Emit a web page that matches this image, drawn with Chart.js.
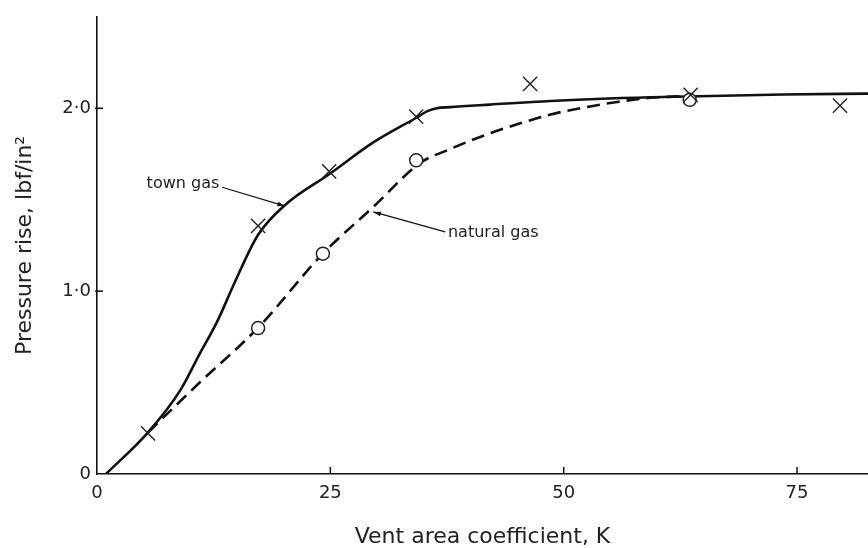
<!DOCTYPE html>
<html>
<head>
<meta charset="utf-8">
<script src="https://cdn.jsdelivr.net/npm/chart.js@4.4.0/dist/chart.umd.min.js"></script>
<style>
  html, body { margin: 0; padding: 0; background: #fff; }
  #chart { display: block; }
</style>
</head>
<body>
<canvas id="chart" width="868" height="548"></canvas>
<script>
// Pressure rise vs vent area coefficient K
const xTicks = [0, 25, 50, 75];
const xTickLabels = ['0', '25', '50', '75'];
const yTicks = [0, 1, 2];
const yTickLabels = ['0', '1·0', '2·0'];

// drawn curves
const townCurveK = [0.96, 5.47, 8.9, 11.0, 12.9, 14.8, 17.26, 20.15, 24.87, 29.6, 34.2, 35.4, 36.4, 37.8, 42.1, 48.6, 59.3, 73.5, 82.6];
const townCurveP = [0, 0.228, 0.456, 0.657, 0.836, 1.053, 1.308, 1.471, 1.639, 1.813, 1.948, 1.984, 2.0, 2.006, 2.02, 2.04, 2.06, 2.075, 2.08];
const naturalCurveK = [5.47, 11.0, 17.26, 24.2, 29.6, 34.6, 37.8, 41.4, 45.0, 48.6, 52.1, 55.7, 59.3, 62.8];
const naturalCurveP = [0.228, 0.50, 0.80, 1.205, 1.46, 1.70, 1.776, 1.85, 1.912, 1.966, 2.003, 2.034, 2.057, 2.066];

// measured points
const townPointsK = [5.47, 17.26, 24.87, 34.19, 46.4, 63.6, 79.6];
const townPointsP = [0.222, 1.357, 1.655, 1.954, 2.133, 2.073, 2.014];
const naturalPointsK = [17.26, 24.2, 34.2, 63.5];
const naturalPointsP = [0.798, 1.205, 1.715, 2.046];

const toXY = (xs, ys) => xs.map((v, i) => ({x: v, y: ys[i]}));

const notes = [
  {text: 'town gas', align: 'right', at: [13.1, 1.585], from: [13.4, 1.568], to: [20.15, 1.465]},
  {text: 'natural gas', align: 'left', at: [37.6, 1.319], from: [37.3, 1.324], to: [29.6, 1.433]}
];

const ink = '#111';

const figureMarks = {
  id: 'figureMarks',
  afterDatasetsDraw(chart) {
    const {ctx, chartArea} = chart;
    const x = chart.scales.x, y = chart.scales.y;
    ctx.save();
    ctx.strokeStyle = ink;
    ctx.lineWidth = 1.5;
    // tick marks pointing into the plot
    xTicks.forEach(v => {
      if (v === 0) return;
      const px = x.getPixelForValue(v);
      ctx.beginPath();
      ctx.moveTo(px, chartArea.bottom);
      ctx.lineTo(px, chartArea.bottom - 7);
      ctx.stroke();
    });
    yTicks.forEach(v => {
      if (v === 0) return;
      const py = y.getPixelForValue(v);
      ctx.beginPath();
      ctx.moveTo(chartArea.left - 2, py);
      ctx.lineTo(chartArea.left + 6, py);
      ctx.stroke();
    });
    // labels with arrows
    ctx.font = '16px "DejaVu Sans"';
    ctx.fillStyle = '#222';
    ctx.textBaseline = 'middle';
    ctx.lineWidth = 1.2;
    notes.forEach(n => {
      ctx.textAlign = n.align;
      ctx.fillText(n.text, x.getPixelForValue(n.at[0]), y.getPixelForValue(n.at[1]));
      const x0 = x.getPixelForValue(n.from[0]), y0 = y.getPixelForValue(n.from[1]);
      const x1 = x.getPixelForValue(n.to[0]), y1 = y.getPixelForValue(n.to[1]);
      ctx.beginPath();
      ctx.moveTo(x0, y0);
      ctx.lineTo(x1, y1);
      ctx.stroke();
      const a = Math.atan2(y1 - y0, x1 - x0);
      ctx.beginPath();
      ctx.moveTo(x1, y1);
      ctx.lineTo(x1 - 8 * Math.cos(a - 0.3), y1 - 8 * Math.sin(a - 0.3));
      ctx.lineTo(x1 - 8 * Math.cos(a + 0.3), y1 - 8 * Math.sin(a + 0.3));
      ctx.closePath();
      ctx.fillStyle = ink;
      ctx.fill();
      ctx.fillStyle = '#222';
    });
    ctx.restore();
  }
};

new Chart(document.getElementById('chart'), {
  type: 'scatter',
  data: {
    datasets: [
      {
        label: 'town gas',
        data: toXY(townCurveK, townCurveP),
        showLine: true,
        borderColor: ink,
        borderWidth: 2.6,
        pointRadius: 0,
        cubicInterpolationMode: 'monotone',
        order: 3
      },
      {
        label: 'natural gas',
        data: toXY(naturalCurveK, naturalCurveP),
        showLine: true,
        borderColor: ink,
        borderWidth: 2.6,
        borderDash: [13, 7],
        pointRadius: 0,
        cubicInterpolationMode: 'monotone',
        order: 4
      },
      {
        label: 'town gas (measured)',
        data: toXY(townPointsK, townPointsP),
        pointStyle: 'crossRot',
        pointRadius: 10,
        borderColor: '#222',
        borderWidth: 1.4,
        order: 1
      },
      {
        label: 'natural gas (measured)',
        data: toXY(naturalPointsK, naturalPointsP),
        pointStyle: 'circle',
        pointRadius: 6.5,
        backgroundColor: '#fff',
        borderColor: '#222',
        borderWidth: 1.5,
        order: 2
      }
    ]
  },
  options: {
    responsive: false,
    animation: false,
    devicePixelRatio: 1,
    layout: {autoPadding: false, padding: {top: 13, right: 0, left: 0, bottom: 0}},
    plugins: {
      legend: {display: false},
      tooltip: {enabled: false}
    },
    scales: {
      x: {
        type: 'linear',
        min: 0,
        max: 82.6,
        afterBuildTicks: s => { s.ticks = xTicks.map(v => ({value: v})); },
        afterFit: s => { s.height = 74; },
        grid: {display: false, drawTicks: false},
        border: {display: true, color: ink, width: 1.6},
        ticks: {
          padding: 9,
          color: '#222',
          font: {family: 'DejaVu Sans', size: 18},
          maxRotation: 0,
          autoSkip: false,
          callback: (v) => xTickLabels[xTicks.indexOf(v)]
        },
        title: {
          display: true,
          text: 'Vent area coefficient, K',
          color: '#222',
          font: {family: 'DejaVu Sans', size: 22, lineHeight: 1},
          padding: {top: 0, bottom: 0}
        }
      },
      y: {
        type: 'linear',
        min: 0,
        max: 2.5,
        afterBuildTicks: s => { s.ticks = yTicks.map(v => ({value: v})); },
        afterFit: s => { s.width = 97; },
        grid: {display: false, drawTicks: false},
        border: {display: true, color: ink, width: 1.6},
        ticks: {
          padding: 6,
          color: '#222',
          font: {family: 'DejaVu Sans', size: 18},
          autoSkip: false,
          callback: (v) => yTickLabels[yTicks.indexOf(v)]
        },
        title: {
          display: true,
          text: 'Pressure rise, lbf/in²',
          color: '#222',
          font: {family: 'DejaVu Sans', size: 22, lineHeight: 1},
          padding: {top: 14, bottom: 0}
        }
      }
    }
  },
  plugins: [figureMarks]
});
</script>
</body>
</html>
